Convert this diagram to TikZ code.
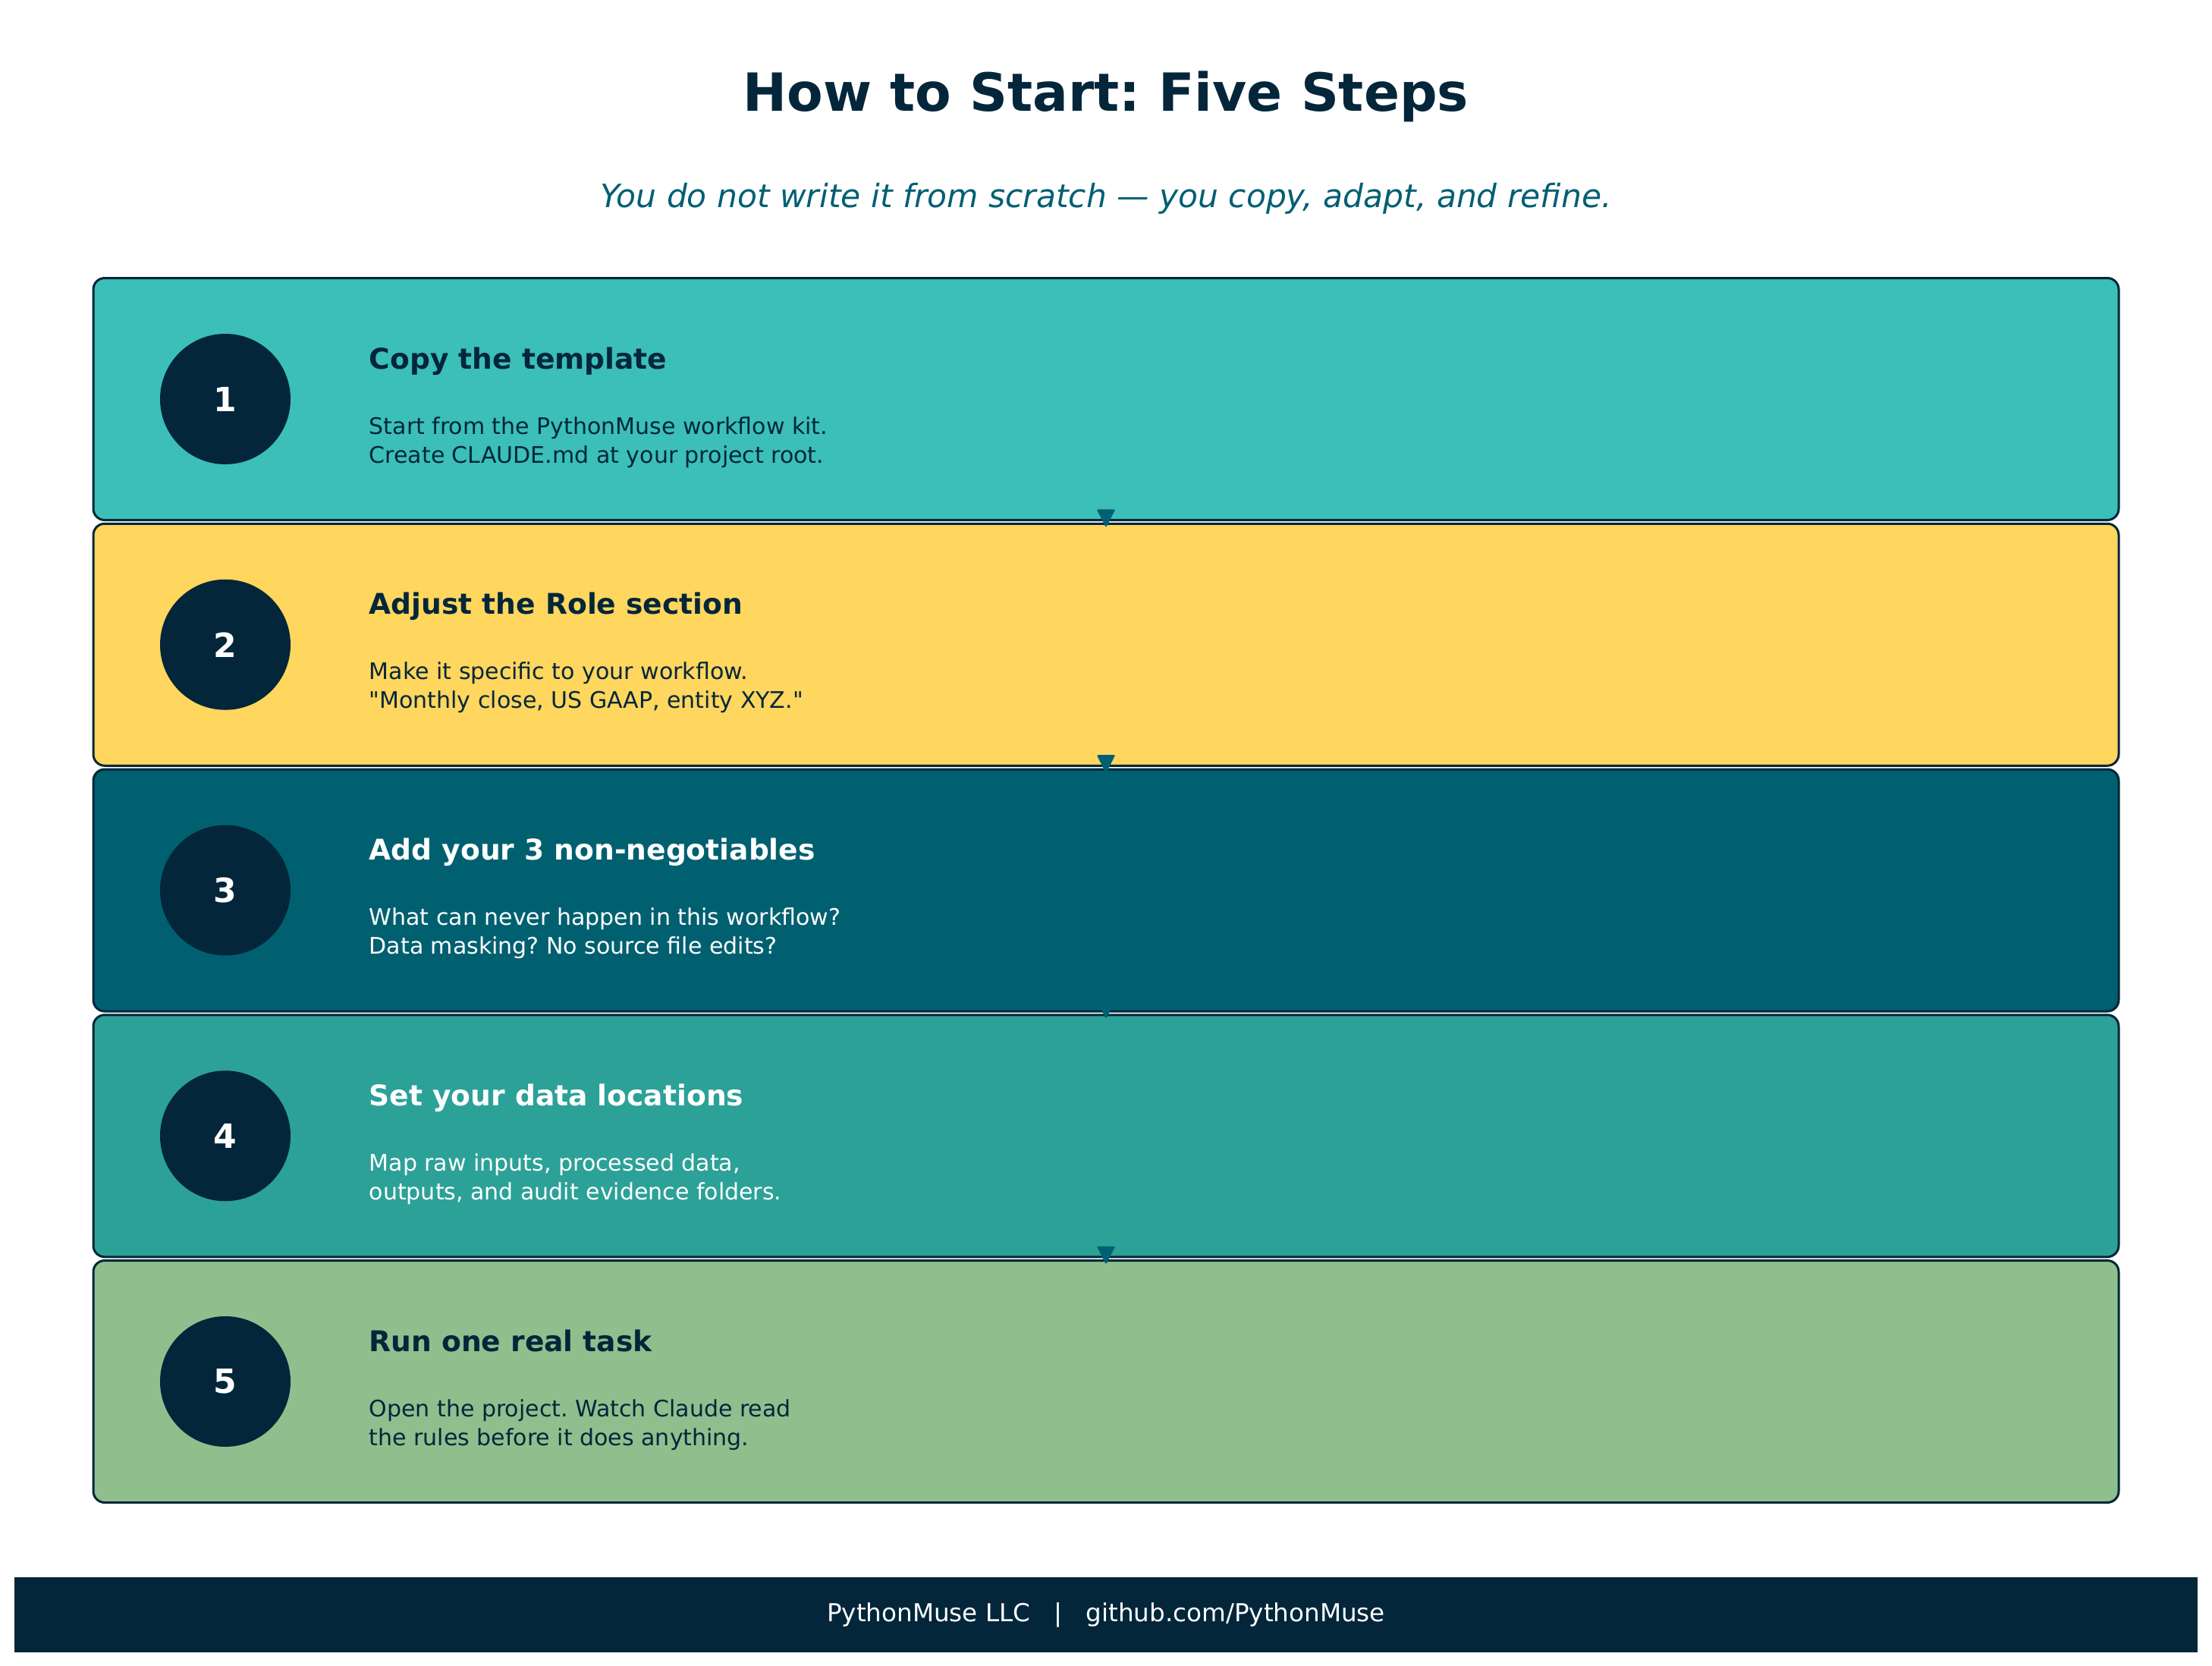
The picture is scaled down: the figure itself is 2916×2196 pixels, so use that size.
\documentclass[tikz,border=0pt]{standalone}
\usepackage{fontspec}
\setmainfont{DejaVu Sans}
\newfontfamily\plaindv{DejaVu Sans}
\usetikzlibrary{arrows.meta}
\frenchspacing
\definecolor{navy}{HTML}{03263A}
\definecolor{tealA}{HTML}{3BBFB8}
\definecolor{gold}{HTML}{FFD65E}
\definecolor{deepteal}{HTML}{006070}
\definecolor{tealB}{HTML}{2CA198}
\definecolor{sage}{HTML}{90BF8E}
\definecolor{subteal}{HTML}{005F73}
\tikzset{
  stepbox/.style={rectangle, draw=navy, line width=0.75pt, rounded corners=3.75pt,
    minimum width=667.5pt, minimum height=79.75pt, inner sep=0pt, outer sep=0pt},
  numcirc/.style={circle, fill=navy, minimum size=43pt, inner sep=0pt, outer sep=0pt,
    text=white, font=\fontsize{11pt}{13pt}\selectfont\bfseries},
  headtxt/.style={anchor=base west, inner sep=0pt, font=\fontsize{9.4pt}{11pt}\selectfont\bfseries},
  bodytxt/.style={anchor=base west, inner sep=0pt, font=\plaindv\fontsize{7.5pt}{9pt}\selectfont\frenchspacing},
  flowarrow/.style={draw=subteal, line width=0.5pt, line join=round,
    -{Triangle[length=6pt, width=6pt, round]}, fill=subteal}
}
\begin{document}
\begin{tikzpicture}[x=0.25pt, y=-0.25pt]
\fill[white] (0,0) rectangle (2916,2196);
\useasboundingbox (0,0) rectangle (2916,2196);

\node[anchor=base, inner sep=0pt, text=navy, font=\fontsize{17.33pt}{21pt}\selectfont\bfseries]
  (title) at (1458,146) {How to Start: Five Steps};
\node[anchor=base, inner sep=0pt, text=subteal, font=\fontsize{10.6pt}{13pt}\selectfont\itshape]
  (subtitle) at (1458,273) {You do not write it from scratch — you copy, adapt, and refine.};

% boxes
\node[stepbox, fill=tealA]    (s1) at (1458,526) {};
\node[stepbox, fill=gold]     (s2) at (1458,849.75) {};
\node[stepbox, fill=deepteal] (s3) at (1458,1173.5) {};
\node[stepbox, fill=tealB]    (s4) at (1458,1497.25) {};
\node[stepbox, fill=sage]     (s5) at (1458,1821) {};

% numbers
\node[numcirc] (n1) at (297,526) {1};
\node[numcirc] (n2) at (297,849.75) {2};
\node[numcirc] (n3) at (297,1173.5) {3};
\node[numcirc] (n4) at (297,1497.25) {4};
\node[numcirc] (n5) at (297,1821) {5};

% step 1
\node[headtxt, text=navy] (h1) at (486,486) {Copy the template};
\node[bodytxt, text=navy] (b1a) at (486,572) {Start from the PythonMuse workflow kit.};
\node[bodytxt, text=navy] (b1b) at (486,610) {Create CLAUDE.md at your project root.};
% step 2
\node[headtxt, text=navy] (h2) at (486,809.75) {Adjust the Role section};
\node[bodytxt, text=navy] (b2a) at (486,895.75) {Make it specific to your workflow.};
\node[bodytxt, text=navy] (b2b) at (486,933.75) {"Monthly close, US GAAP, entity XYZ."};
% step 3
\node[headtxt, text=white] (h3) at (486,1133.5) {Add your 3 non-negotiables};
\node[bodytxt, text=white] (b3a) at (486,1219.5) {What can never happen in this workflow?};
\node[bodytxt, text=white] (b3b) at (486,1257.5) {Data masking? No source file edits?};
% step 4
\node[headtxt, text=white] (h4) at (486,1457.25) {Set your data locations};
\node[bodytxt, text=white] (b4a) at (486,1543.25) {Map raw inputs, processed data,};
\node[bodytxt, text=white] (b4b) at (486,1581.25) {outputs, and audit evidence folders.};
% step 5
\node[headtxt, text=navy] (h5) at (486,1781) {Run one real task};
\node[bodytxt, text=navy] (b5a) at (486,1867) {Open the project. Watch Claude read};
\node[bodytxt, text=navy] (b5b) at (486,1905) {the rules before it does anything.};

% arrows
\draw[flowarrow] (s1.south) -- ([yshift=-1pt]s2.north);
\draw[flowarrow] (s2.south) -- ([yshift=-1pt]s3.north);
\draw[flowarrow] (s3.south) -- ([yshift=-1pt]s4.north);
\draw[flowarrow] (s4.south) -- ([yshift=-1pt]s5.north);

% footer
\node[rectangle, fill=navy, minimum width=719.5pt, minimum height=24.75pt, inner sep=0pt,
  text=white, font=\fontsize{8.15pt}{10pt}\selectfont]
  (footer) at (1458,2128.5) {PythonMuse LLC\ \ \ |\ \ \ github.com/PythonMuse};
\end{tikzpicture}
\end{document}
